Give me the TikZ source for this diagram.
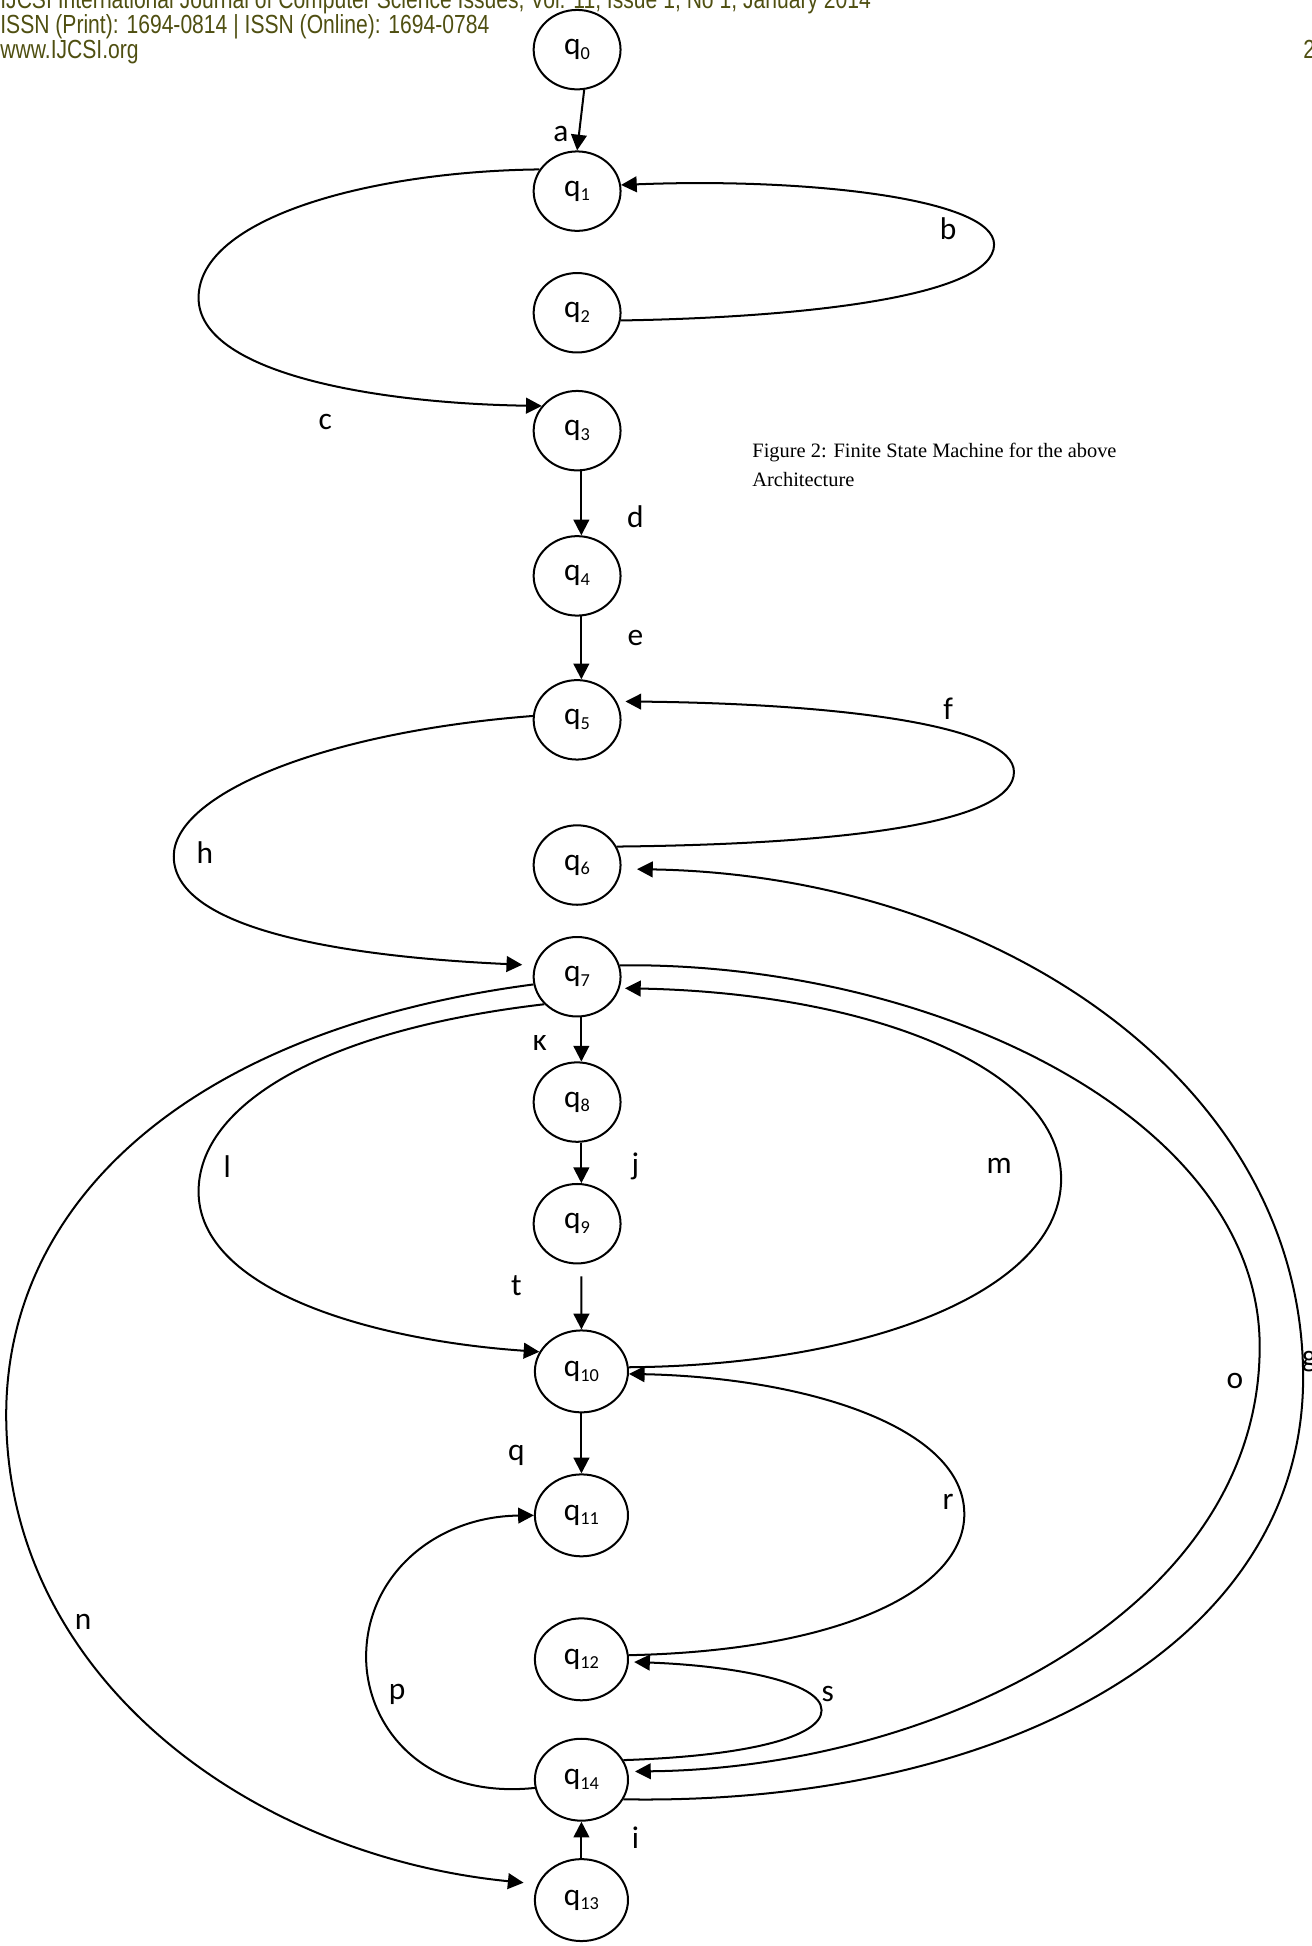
\documentclass[tikz,border=0pt]{standalone}
\usepackage{fontspec}
\setmainfont{Carlito}
\newfontfamily\hdrfont[FakeStretch=0.806]{Liberation Sans}
\newfontfamily\capfont{Liberation Serif}
\usetikzlibrary{arrows.meta,shapes.geometric}
\definecolor{hdrolive}{RGB}{79,79,17}
\newcommand{\stname}[1]{q\raisebox{-0.3ex}{\fontsize{10.5}{11}\selectfont #1}}
\tikzset{
  st/.style={draw, ellipse, line width=1.15pt, minimum width=1.75cm, minimum height=1.6cm,
             inner sep=0pt, font=\fontsize{18}{21}\selectfont},
  stw/.style={st, minimum width=1.875cm, minimum height=1.65cm},
  tr/.style={-{Triangle[length=9pt,width=9pt]}, line width=1.15pt},
  lbl/.style={font=\fontsize{18}{21}\selectfont, inner sep=0pt},
  hdr/.style={font=\hdrfont\fontsize{15}{17}\selectfont, text=hdrolive, inner sep=0pt, anchor=base west},
  capt/.style={font=\capfont\fontsize{11.7}{14}\selectfont, inner sep=0pt, anchor=base west},
}

\begin{document}
\begin{tikzpicture}[x=0.025cm, y=-0.025cm]
    \clip (0,0) rectangle (1057,1568);
    \node[hdr] (hd1) at (0,7) {IJCSI International Journal of Computer Science Issues, Vol. 11, Issue 1, No 1, January 2014};
    \node[hdr] (hd2) at (0,27) {ISSN (Print): 1694-0814 | ISSN (Online): 1694-0784};
    \node[hdr] (hd3) at (0,47) {www.IJCSI.org};
    \node[hdr] (pgno) at (1050,47) {2};
    \node[capt] (cap1) at (606,369) {Figure 2: Finite State Machine for the above};
    \node[capt] (cap2) at (606,392) {Architecture};

    \node[st] (q0) at (465,40) {\stname{0}};
    \node[st] (q1) at (465,154) {\stname{1}};
    \node[st] (q2) at (465,252) {\stname{2}};
    \node[st] (q3) at (465,347) {\stname{3}};
    \node[st] (q4) at (465,464) {\stname{4}};
    \node[st] (q5) at (465,580) {\stname{5}};
    \node[st] (q6) at (465,697) {\stname{6}};
    \node[st] (q7) at (465,787) {\stname{7}};
    \node[st] (q8) at (465,888) {\stname{8}};
    \node[st] (q9) at (465,986) {\stname{9}};
    \node[stw] (q10) at (468.5,1105) {\stname{10}};
    \node[stw] (q11) at (468.5,1221) {\stname{11}};
    \node[stw] (q12) at (468.5,1337) {\stname{12}};
    \node[stw] (q14) at (468.5,1434) {\stname{14}};
    \node[stw] (q13) at (468.5,1531) {\stname{13}};

    \draw[tr] (q0.-80) -- (q1.north);
    \draw[tr] (q3.-84) -- (q4.84);
    \draw[tr] (q4.-84) -- (q5.84);
    \draw[tr] (q7.-84) -- (q8.84);
    \draw[tr] (q8.-84) -- (q9.84);
    \draw[tr] ([yshift=-7pt]q9.-84) -- (q10.north);
    \draw[tr] (q10.south) -- (q11.north);
    \draw[tr] (q13.north) -- (q14.south);

    \draw[tr] (q2.-10) .. controls (640,256) and (801,240) .. (801,197)
              .. controls (801,160) and (650,143) .. (q1.8);
    \draw[tr] (q1.150) .. controls (300,138) and (160,175) .. (160,240)
              .. controls (160,300) and (300,325) .. (q3.145);
    \draw[tr, shorten >=5pt] (q6.25) .. controls (700,680) and (817,660) .. (817,622)
              .. controls (817,585) and (680,567) .. (q5.25);
    \draw[tr, shorten >=7pt] (q5.175) .. controls (260,590) and (140,640) .. (140,690)
              .. controls (140,745) and (260,770) .. (q7.165);
    \draw[tr, shorten >=4pt] (q7.15) .. controls (750,775) and (1015,900) .. (1015,1085)
              .. controls (1015,1300) and (750,1425) .. (q14.10);
    \draw[tr, shorten >=3pt] (q10.5) .. controls (700,1100) and (855,1040) .. (855,950)
              .. controls (855,860) and (700,800) .. (q7.-15);
    \draw[tr, shorten >=9pt] (q14.-25) .. controls (800,1455) and (1050,1330) .. (1050,1110)
              .. controls (1050,870) and (800,705) .. (q6.-5);
    \draw[tr] (q7.-140) .. controls (260,830) and (160,890) .. (160,960)
              .. controls (160,1040) and (300,1080) .. (q10.155);
    \draw[tr, shorten >=8pt] (q7.-170) .. controls (150,830) and (5,970) .. (5,1140)
              .. controls (5,1350) and (200,1495) .. (q13.160);
    \draw[tr] (q12.5) .. controls (680,1330) and (777,1280) .. (777,1220)
              .. controls (777,1150) and (650,1110) .. (q10.-3);
    \draw[tr, shorten >=3pt] (q14.25) .. controls (600,1415) and (662,1400) .. (662,1378)
              .. controls (662,1355) and (590,1342) .. (q12.-3);
    \draw[tr] (q14.-170) .. controls (340,1450) and (295,1390) .. (295,1335)
              .. controls (295,1270) and (350,1222) .. (q11.180);

    \node[lbl] (la) at (452,108) {a};
    \node[lbl] (lb) at (764,184) {b};
    \node[lbl] (lc) at (262,340) {c};
    \node[lbl] (ld) at (512,416) {d};
    \node[lbl] (le) at (512,514) {e};
    \node[lbl] (lf) at (764,571) {f};
    \node[lbl] (lh) at (165,687) {h};
    \node[lbl] (lk) at (435,840) {κ};
    \node[lbl] (ll) at (183,940) {l};
    \node[lbl] (lj) at (512,940) {j};
    \node[lbl] (lm) at (805,939) {m};
    \node[lbl] (lt) at (416,1036) {t};
    \node[lbl] (lq) at (416,1173) {q};
    \node[lbl] (lr) at (764,1210) {r};
    \node[lbl] (lo) at (995,1113) {o};
    \node[lbl] (lg) at (1055,1097) {g};
    \node[lbl] (ln) at (67,1307) {n};
    \node[lbl] (lp) at (320,1365) {p};
    \node[lbl] (ls) at (667,1365) {s};
    \node[lbl] (li) at (512,1481) {i};
\end{tikzpicture}
\end{document}
